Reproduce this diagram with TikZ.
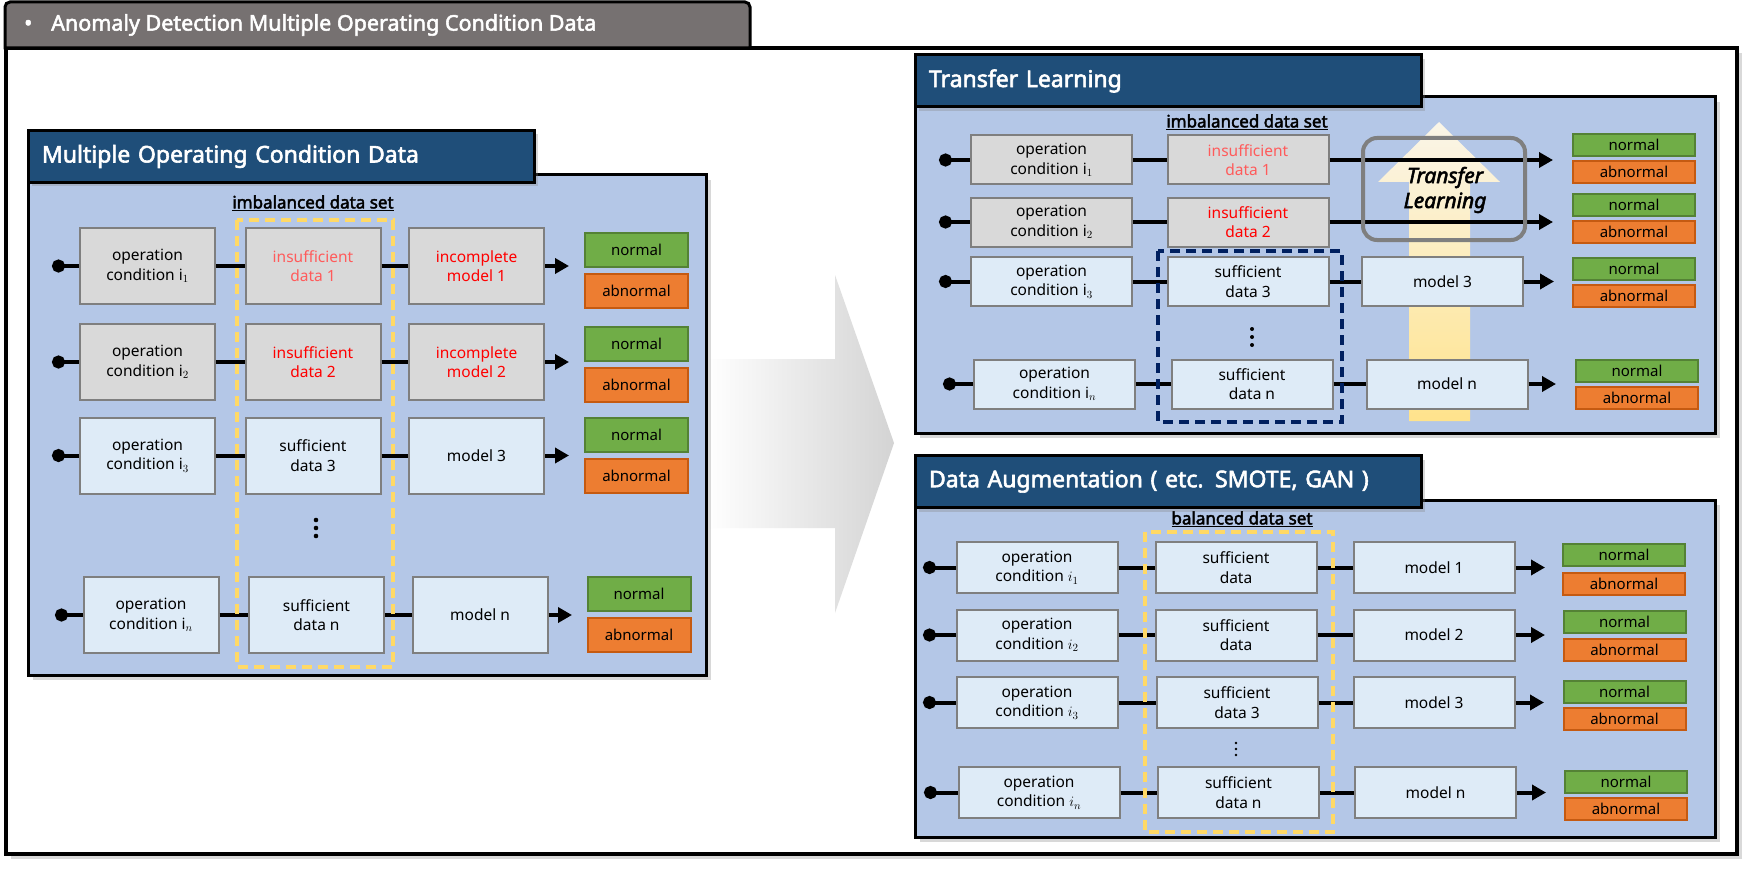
\documentclass[tikz,border=0pt]{standalone}
\usepackage{graphicx}
\usepackage{fontspec}
\setmainfont{Noto Sans}
\newfontfamily\heavyfont{Noto Sans}[FakeBold=2.5]
\usepackage{tikz}
\usetikzlibrary{arrows.meta, positioning, shadows}

\definecolor{headblue}{HTML}{1F4E79}
\definecolor{panelblue}{HTML}{B4C7E7}
\definecolor{boxblue}{HTML}{DEEBF7}
\definecolor{boxgray}{HTML}{D9D9D9}
\definecolor{boxline}{HTML}{7F7F7F}
\definecolor{okgreen}{HTML}{70AD47}
\definecolor{okgreenline}{HTML}{548235}
\definecolor{badorange}{HTML}{ED7D31}
\definecolor{badorangeline}{HTML}{C55A11}
\definecolor{tabgray}{HTML}{767171}
\definecolor{setyellow}{HTML}{FFD966}
\definecolor{setnavy}{HTML}{002060}
\definecolor{lightred}{HTML}{FF5B5B}
\definecolor{tlcream}{HTML}{FAF5E8}
\definecolor{tlyellow}{HTML}{FFE38C}

\begin{document}
\begin{tikzpicture}[x=1pt, y=-1pt, line join=miter]
    % estilos de paneles, cajas y conexiones
    \tikzstyle{panel} = [draw, line width=3pt, fill=panelblue, drop shadow={shadow xshift=5pt, shadow yshift=-5pt, opacity=0.3}]
    \tikzstyle{header} = [draw, line width=3pt, fill=headblue, text=white, font=\heavyfont\fontsize{23}{27}\selectfont, align=left, inner xsep=14pt, minimum height=52pt, drop shadow={shadow xshift=4pt, shadow yshift=-4pt, opacity=0.3}]
    \tikzstyle{newbox} = [draw=boxline, line width=2pt, fill=boxblue, align=center, font=\fontsize{15.5}{19.5}\selectfont, inner sep=0pt]
    \tikzstyle{oldbox} = [newbox, fill=boxgray]
    \tikzstyle{bigbox} = [minimum width=135pt, minimum height=76pt]
    \tikzstyle{smallbox} = [minimum width=161pt, minimum height=49pt]
    \tikzstyle{normalbox} = [draw=okgreenline, line width=2pt, fill=okgreen, font=\fontsize{15}{18}\selectfont, inner sep=0pt]
    \tikzstyle{abnormalbox} = [normalbox, draw=badorangeline, fill=badorange]
    \tikzstyle{bignormal} = [minimum width=103pt, minimum height=34pt]
    \tikzstyle{smallnormal} = [minimum width=122pt, minimum height=22pt]
    \tikzstyle{wire} = [line width=4pt]
    \tikzstyle{wirein} = [wire, {Circle[length=13pt]}-]
    \tikzstyle{wireout} = [wire, -{Triangle[length=14pt, width=15pt]}]
    \tikzstyle{setlabel} = [font=\heavyfont\fontsize{17}{20}\selectfont]
    \tikzstyle{setframe} = [line width=4pt, dash pattern=on 10pt off 6pt]

    \useasboundingbox (0,0) rectangle (1752,869);

    % marco general y pestaña de titulo
    \draw[line width=4pt, fill=white, drop shadow={shadow xshift=5pt, shadow yshift=-5pt, opacity=0.3}] (6,48.5) rectangle (1737,854);
    \draw[line width=3pt, fill=tabgray] (5,48) [rounded corners=5pt]-- (5,2) -- (750,2) [sharp corners]-- (750,48) -- cycle;
    \node[anchor=west, inner sep=0pt, text=white, font=\heavyfont\fontsize{21.5}{24}\selectfont] (title) at (24,25) {•\hspace{19pt}Anomaly Detection Multiple Operating Condition Data};

    % flecha gris entre paneles
    \shade[left color=white, right color=black!17] (706,359) -- (835,359) -- (835,275) -- (894,443) -- (835,613) -- (835,528) -- (706,528) -- cycle;

    % panel izquierdo
    \draw[panel] (28,175) rectangle (706,675);
    \node[header, text width=478pt] (mochead) at (281,156.5) {Multiple Operating Condition Data};
    \node[setlabel] (mocset) at (313,203) {\underline{imbalanced data set}};

    \node[oldbox, bigbox] (lc1) at (147.5,266) {operation\\condition $\mathrm{i}_1$};
    \node[oldbox, bigbox, text=lightred] (ld1) at (313,266) {insufficient\\data 1};
    \node[oldbox, bigbox, text=red] (lm1) at (476.5,266) {incomplete\\model 1};
    \node[normalbox, bignormal] (ln1) at (636.5,250) {normal};
    \node[abnormalbox, bignormal, below=5pt of ln1] (la1) {abnormal};
    \coordinate (ls1) at (52,266);
    \coordinate (lt1) at (569,266);

    \node[oldbox, bigbox] (lc2) at (147.5,362) {operation\\condition $\mathrm{i}_2$};
    \node[oldbox, bigbox, text=red] (ld2) at (313,362) {insufficient\\data 2};
    \node[oldbox, bigbox, text=red] (lm2) at (476.5,362) {incomplete\\model 2};
    \node[normalbox, bignormal] (ln2) at (636.5,344) {normal};
    \node[abnormalbox, bignormal, below=5pt of ln2] (la2) {abnormal};
    \coordinate (ls2) at (52,362);
    \coordinate (lt2) at (569,362);

    \node[newbox, bigbox] (lc3) at (147.5,455.5) {operation\\condition $\mathrm{i}_3$};
    \node[newbox, bigbox] (ld3) at (313,455.5) {sufficient\\data 3};
    \node[newbox, bigbox] (lm3) at (476.5,455.5) {model 3};
    \node[normalbox, bignormal] (ln3) at (636.5,435) {normal};
    \node[abnormalbox, bignormal, below=5pt of ln3] (la3) {abnormal};
    \coordinate (ls3) at (52,455.5);
    \coordinate (lt3) at (569,455.5);

    \node[newbox, bigbox] (lcn) at (151,615) {operation\\condition $\mathrm{i}_n$};
    \node[newbox, bigbox] (ldn) at (316.5,615) {sufficient\\data n};
    \node[newbox, bigbox] (lmn) at (480,615) {model n};
    \node[normalbox, bignormal] (lnn) at (639,594) {normal};
    \node[abnormalbox, bignormal, below=5pt of lnn] (lan) {abnormal};
    \coordinate (lsn) at (55,615);
    \coordinate (ltn) at (572,615);

    \draw[wirein] (ls1) -- (lc1);
    \draw[wire] (lc1) -- (ld1);
    \draw[wire] (ld1) -- (lm1);
    \draw[wireout] (lm1) -- (lt1);
    \draw[wirein] (ls2) -- (lc2);
    \draw[wire] (lc2) -- (ld2);
    \draw[wire] (ld2) -- (lm2);
    \draw[wireout] (lm2) -- (lt2);
    \draw[wirein] (ls3) -- (lc3);
    \draw[wire] (lc3) -- (ld3);
    \draw[wire] (ld3) -- (lm3);
    \draw[wireout] (lm3) -- (lt3);
    \draw[wirein] (lsn) -- (lcn);
    \draw[wire] (lcn) -- (ldn);
    \draw[wire] (ldn) -- (lmn);
    \draw[wireout] (lmn) -- (ltn);

    \foreach \dy in {-8,0,8} \fill (316,528+\dy) circle (2.3pt);
    \draw[setframe, setyellow] (237,220) rectangle (393,667);

    % panel derecho superior: transfer learning
    \draw[panel] (915,97) rectangle (1715,433);
    \node[header, text width=478pt] (tlhead) at (1168,81) {Transfer Learning};
    \node[setlabel] (tlset) at (1247,122) {\underline{imbalanced data set}};

    \shade[top color=tlcream, bottom color=tlyellow] (1409,421) -- (1409,182) -- (1378,182) -- (1439,122) -- (1500,182) -- (1470,182) -- (1470,421) -- cycle;

    \node[oldbox, smallbox] (tc1) at (1051.5,160) {operation\\condition $\mathrm{i}_1$};
    \node[oldbox, smallbox, text=lightred] (td1) at (1248,160) {insufficient\\data 1};
    \node[normalbox, smallnormal] (tn1) at (1634,145) {normal};
    \node[abnormalbox, smallnormal, below=3pt of tn1] (ta1) {abnormal};
    \coordinate (ts1) at (939,160);
    \coordinate (tt1) at (1553,160);

    \node[oldbox, smallbox] (tc2) at (1051.5,222) {operation\\condition $\mathrm{i}_2$};
    \node[oldbox, smallbox, text=red] (td2) at (1248,222) {insufficient\\data 2};
    \node[normalbox, smallnormal] (tn2) at (1634,205) {normal};
    \node[abnormalbox, smallnormal, below=3pt of tn2] (ta2) {abnormal};
    \coordinate (ts2) at (939,222);
    \coordinate (tt2) at (1553,222);

    \node[newbox, smallbox] (tc3) at (1051.5,281.5) {operation\\condition $\mathrm{i}_3$};
    \node[newbox, smallbox] (td3) at (1248,281.5) {sufficient\\data 3};
    \node[newbox, smallbox] (tm3) at (1442.5,281.5) {model 3};
    \node[normalbox, smallnormal] (tn3) at (1634,268.5) {normal};
    \node[abnormalbox, smallnormal, below=3pt of tn3] (ta3) {abnormal};
    \coordinate (ts3) at (939,281.5);
    \coordinate (tt3) at (1554,281.5);

    \node[newbox, smallbox] (tcn) at (1054.5,384) {operation\\condition $\mathrm{i}_n$};
    \node[newbox, smallbox] (tdn) at (1252,384) {sufficient\\data n};
    \node[newbox, smallbox] (tmn) at (1447,384) {model n};
    \node[normalbox, smallnormal] (tnn) at (1637,371) {normal};
    \node[abnormalbox, smallnormal, below=3pt of tnn] (tan) {abnormal};
    \coordinate (tsn) at (943,384);
    \coordinate (ttn) at (1556,384);

    \draw[wirein] (ts1) -- (tc1);
    \draw[wire] (tc1) -- (td1);
    \draw[wireout] (td1) -- (tt1);
    \draw[wirein] (ts2) -- (tc2);
    \draw[wire] (tc2) -- (td2);
    \draw[wireout] (td2) -- (tt2);
    \draw[wirein] (ts3) -- (tc3);
    \draw[wire] (tc3) -- (td3);
    \draw[wire] (td3) -- (tm3);
    \draw[wireout] (tm3) -- (tt3);
    \draw[wirein] (tsn) -- (tcn);
    \draw[wire] (tcn) -- (tdn);
    \draw[wire] (tdn) -- (tmn);
    \draw[wireout] (tmn) -- (ttn);

    \draw[boxline, line width=4pt, rounded corners=14pt] (1363,138) rectangle (1525,240);
    \node[align=center, font=\heavyfont\itshape\fontsize{21}{25}\selectfont] (tltext) at (1445,190) {Transfer\\Learning};

    \foreach \dy in {-8,0,8} \fill (1252,337+\dy) circle (2pt);
    \draw[setframe, setnavy] (1158,251) rectangle (1342,422);

    % panel derecho inferior: data augmentation
    \draw[panel] (915,500) rectangle (1715,837);
    \node[header, text width=478pt] (dahead) at (1168,481.5) {Data Augmentation ( etc. SMOTE, GAN )};
    \node[setlabel] (daset) at (1242,519) {\underline{balanced data set}};

    \node[newbox, smallbox, minimum height=51pt] (bc1) at (1037,567.5) {operation\\condition $i_1$};
    \node[newbox, smallbox, minimum height=51pt] (bd1) at (1236,567.5) {sufficient\\data};
    \node[newbox, smallbox, minimum height=51pt] (bm1) at (1434,567.5) {model 1};
    \node[normalbox, smallnormal] (bn1) at (1624,554.5) {normal};
    \node[abnormalbox, smallnormal, below=5pt of bn1] (ba1) {abnormal};
    \coordinate (bs1) at (923,567.5);
    \coordinate (bt1) at (1545,567.5);

    \node[newbox, smallbox, minimum height=51pt] (bc2) at (1037,635) {operation\\condition $i_2$};
    \node[newbox, smallbox, minimum height=51pt] (bd2) at (1236,635) {sufficient\\data};
    \node[newbox, smallbox, minimum height=51pt] (bm2) at (1434,635) {model 2};
    \node[normalbox, smallnormal] (bn2) at (1624.5,622) {normal};
    \node[abnormalbox, smallnormal, below=4pt of bn2] (ba2) {abnormal};
    \coordinate (bs2) at (923,635);
    \coordinate (bt2) at (1545,635);

    \node[newbox, smallbox, minimum height=51pt] (bc3) at (1037,702.5) {operation\\condition $i_3$};
    \node[newbox, smallbox, minimum height=51pt] (bd3) at (1237,702.5) {sufficient\\data 3};
    \node[newbox, smallbox, minimum height=51pt] (bm3) at (1434,702.5) {model 3};
    \node[normalbox, smallnormal] (bn3) at (1624.5,692) {normal};
    \node[abnormalbox, smallnormal, below=3pt of bn3] (ba3) {abnormal};
    \coordinate (bs3) at (923,702.5);
    \coordinate (bt3) at (1544,702.5);

    \node[newbox, smallbox, minimum height=51pt] (bcn) at (1039,792.5) {operation\\condition $i_n$};
    \node[newbox, smallbox, minimum height=51pt] (bdn) at (1238.5,792.5) {sufficient\\data n};
    \node[newbox, smallbox, minimum height=51pt] (bmn) at (1435.5,792.5) {model n};
    \node[normalbox, smallnormal] (bnn) at (1626,782) {normal};
    \node[abnormalbox, smallnormal, below=3pt of bnn] (ban) {abnormal};
    \coordinate (bsn) at (924,792.5);
    \coordinate (btn) at (1546,792.5);

    \draw[wirein] (bs1) -- (bc1);
    \draw[wire] (bc1) -- (bd1);
    \draw[wire] (bd1) -- (bm1);
    \draw[wireout] (bm1) -- (bt1);
    \draw[wirein] (bs2) -- (bc2);
    \draw[wire] (bc2) -- (bd2);
    \draw[wire] (bd2) -- (bm2);
    \draw[wireout] (bm2) -- (bt2);
    \draw[wirein] (bs3) -- (bc3);
    \draw[wire] (bc3) -- (bd3);
    \draw[wire] (bd3) -- (bm3);
    \draw[wireout] (bm3) -- (bt3);
    \draw[wirein] (bsn) -- (bcn);
    \draw[wire] (bcn) -- (bdn);
    \draw[wire] (bdn) -- (bmn);
    \draw[wireout] (bmn) -- (btn);

    \foreach \dy in {-6,0,6} \fill (1236,749+\dy) circle (1.3pt);
    \draw[setframe, setyellow] (1145,532) rectangle (1333,832);

\end{tikzpicture}
\end{document}
